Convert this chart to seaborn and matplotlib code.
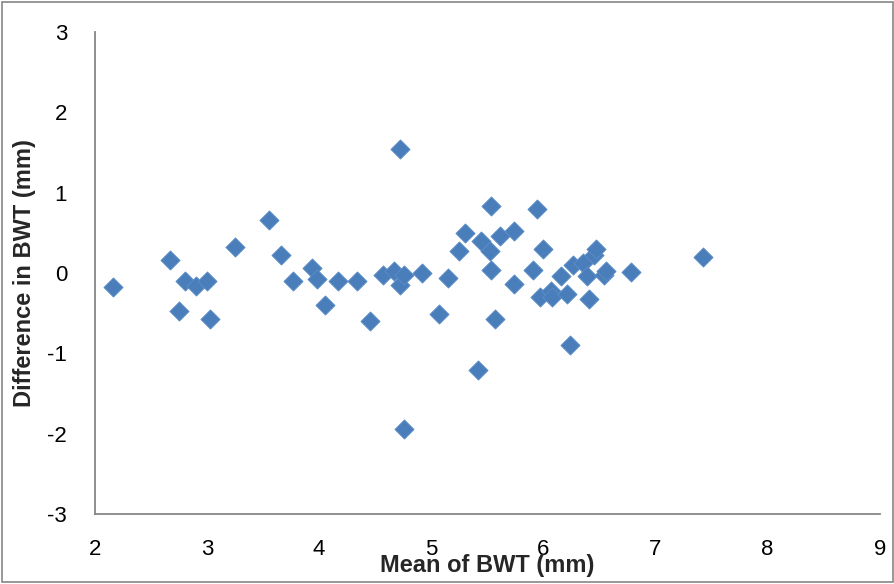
import numpy as np
import matplotlib
matplotlib.use('Agg')
import matplotlib.pyplot as plt
import pandas as pd
import seaborn as sns
from matplotlib.patches import Rectangle

# Bland-Altman style data
mean_bwt = [2.16, 2.67, 2.75, 2.80, 2.90, 3.00, 3.03, 3.25, 3.55, 3.66,
            3.77, 3.94, 3.98, 4.05, 4.17, 4.34, 4.45, 4.57, 4.67, 4.72,
            4.72, 4.76, 4.76, 4.92, 5.07, 5.15, 5.25, 5.30, 5.42, 5.44,
            5.52, 5.53, 5.53, 5.57, 5.61, 5.74, 5.74, 5.91, 5.94, 5.97,
            6.00, 6.07, 6.08, 6.16, 6.21, 6.24, 6.26, 6.35, 6.39, 6.41,
            6.45, 6.47, 6.54, 6.56, 6.78, 7.42]
diff_bwt = [-0.17, 0.16, -0.47, -0.10, -0.16, -0.10, -0.57, 0.32, 0.66, 0.22,
            -0.10, 0.06, -0.07, -0.40, -0.10, -0.10, -0.60, -0.02, 0.02, 1.54,
            -0.15, -0.02, -1.94, 0.00, -0.51, -0.06, 0.27, 0.50, -1.21, 0.40,
            0.27, 0.83, 0.04, -0.57, 0.46, 0.52, -0.14, 0.04, 0.80, -0.30,
            0.30, -0.22, -0.30, -0.04, -0.26, -0.90, 0.10, 0.12, -0.04, -0.32,
            0.22, 0.30, -0.02, 0.02, 0.01, 0.20]

x_ticks = [2, 3, 4, 5, 6, 7, 8, 9]
y_ticks = [-3, -2, -1, 0, 1, 2, 3]

df = pd.DataFrame({'mean': mean_bwt, 'diff': diff_bwt})

sns.set_style('white')
plt.rcParams['font.family'] = ['Liberation Sans Narrow', 'Liberation Sans', 'DejaVu Sans']
plt.rcParams['axes.unicode_minus'] = False

fig = plt.figure(figsize=(8.95, 5.84), dpi=100)
ax = fig.add_axes([0.106, 0.120, 0.877, 0.825])

sns.scatterplot(data=df, x='mean', y='diff', marker='D', s=95,
                color='#4a7ebb', edgecolor='#5b8cc6', linewidth=0.6, ax=ax)

ax.set_xlim(2, 9)
ax.set_ylim(-3, 3)
ax.set_xticks(x_ticks)
ax.set_yticks(y_ticks)

grey = '#868686'
for s in ['top', 'right']:
    ax.spines[s].set_visible(False)
for s in ['left', 'bottom']:
    ax.spines[s].set_color(grey)
    ax.spines[s].set_linewidth(1.3)

ax.tick_params(axis='both', direction='in', length=6, width=1.2, color=grey,
               labelsize=16, labelcolor='black')
ax.tick_params(axis='x', pad=18)
ax.tick_params(axis='y', pad=20)

ax.set_xlabel('Mean of BWT (mm)', fontsize=17, fontweight='bold', labelpad=-4)
ax.set_ylabel('Difference in BWT (mm)', fontsize=17, fontweight='bold', labelpad=8)

fig.patches.append(Rectangle((0.002, 0.003), 0.996, 0.994, transform=fig.transFigure,
                             fill=False, edgecolor=grey, linewidth=1.2))

fig.savefig('out.png', dpi=100)
